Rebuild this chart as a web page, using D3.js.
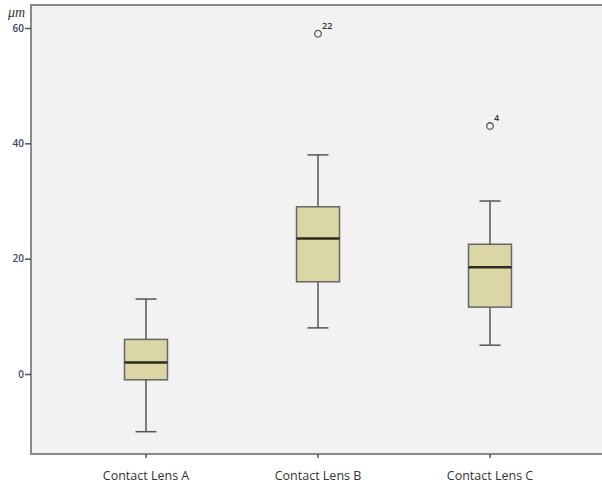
<!DOCTYPE html>
<html>
<head>
<meta charset="utf-8">
<script src="https://cdn.jsdelivr.net/npm/d3@7"></script>
<style>
	body{ margin:0; background:#ffffff; }
	svg text{ font-family:"Open Sans", "DejaVu Sans", sans-serif; }
</style>
</head>
<body>
<div id="chart"></div>
<script>
	// Data
	var categories = ['Contact Lens A','Contact Lens B','Contact Lens C'];
	var whiskerLow = [-10, 8, 5];
	var q1 = [-1, 16, 11.6];
	var medians = [2, 23.5, 18.5];
	var q3 = [6, 29, 22.5];
	var whiskerHigh = [13, 38, 30];
	var outliers = [
		{cat:'Contact Lens B', value:59, label:'22'}
		,{cat:'Contact Lens C', value:43, label:'4'}
	];
	var yTicks = [0, 20, 40, 60];

	// -----------------------------------------------------------------
	var width = 602, height = 488;
	var plotLeft = 31, plotTop = 5, plotRight = 602, plotBottom = 454;

	var svg = d3.select('#chart')
		.append('svg')
		.attr('width',width)
		.attr('height',height);

	var x = d3.scaleBand()
		.domain(categories)
		.range([60, 576])
		.paddingInner(0.75)
		.paddingOuter(0.375);

	var y = d3.scaleLinear()
		.domain([-10, 60])
		.range([431.7, 28]);

	// plot background
	svg.append('rect')
		.attr('x',plotLeft)
		.attr('y',plotTop)
		.attr('width',plotRight-plotLeft)
		.attr('height',plotBottom-plotTop)
		.attr('fill','#f2f2f2');

	// frame (top and left, bottom axis)
	svg.append('path')
		.attr('d','M'+plotRight+','+plotTop+'H'+plotLeft+'V'+plotBottom+'H'+plotRight)
		.attr('fill','none')
		.attr('stroke','#8a8a8a')
		.attr('stroke-width',2);

	// y axis ticks
	var yAxis = svg.append('g')
		.attr('transform','translate('+plotLeft+',0)')
		.call(d3.axisLeft(y).tickValues(yTicks).tickSize(6).tickPadding(1));
	yAxis.select('.domain').remove();
	yAxis.selectAll('.tick line').attr('stroke','#555').attr('stroke-width',1.5);
	yAxis.selectAll('.tick text')
		.attr('fill','#3c4566')
		.attr('font-size',10)
		.attr('font-weight','600');

	// x axis ticks
	var xAxis = svg.append('g')
		.attr('transform','translate(0,'+plotBottom+')')
		.call(d3.axisBottom(x).tickSize(4).tickPadding(13));
	xAxis.select('.domain').remove();
	xAxis.selectAll('.tick line').attr('stroke','#555').attr('stroke-width',1.5);
	xAxis.selectAll('.tick text')
		.attr('fill','#333')
		.attr('font-size',12.5);

	// unit label
	svg.append('text')
		.attr('x',8)
		.attr('y',17)
		.style('font-family','"Liberation Serif", "DejaVu Serif", serif')
		.attr('font-style','italic')
		.attr('font-size',14)
		.attr('fill','#333')
		.text('\u03bcm');

	// boxes
	var rows = categories.map(function(c,i){
		return {cat:c, lo:whiskerLow[i], q1:q1[i], med:medians[i], q3:q3[i], hi:whiskerHigh[i]};
	});

	var g = svg.append('g');
	var bw = x.bandwidth();
	var capW = 21;

	var box = g.selectAll('g.box')
		.data(rows)
		.enter()
		.append('g')
		.attr('class','box')
		.attr('transform',function(d){ return 'translate('+(x(d.cat)+bw/2)+',0)'; });

	box.append('line')
		.attr('x1',0).attr('x2',0)
		.attr('y1',function(d){ return y(d.hi); })
		.attr('y2',function(d){ return y(d.lo); })
		.attr('stroke','#555')
		.attr('stroke-width',1.5);

	box.append('line')
		.attr('x1',-capW/2).attr('x2',capW/2)
		.attr('y1',function(d){ return y(d.hi); })
		.attr('y2',function(d){ return y(d.hi); })
		.attr('stroke','#555')
		.attr('stroke-width',1.5);

	box.append('line')
		.attr('x1',-capW/2).attr('x2',capW/2)
		.attr('y1',function(d){ return y(d.lo); })
		.attr('y2',function(d){ return y(d.lo); })
		.attr('stroke','#555')
		.attr('stroke-width',1.5);

	box.append('rect')
		.attr('x',-bw/2)
		.attr('width',bw)
		.attr('y',function(d){ return y(d.q3); })
		.attr('height',function(d){ return y(d.q1)-y(d.q3); })
		.attr('fill','#dbd6a5')
		.attr('stroke','#666')
		.attr('stroke-width',1.5);

	box.append('line')
		.attr('x1',-bw/2).attr('x2',bw/2)
		.attr('y1',function(d){ return y(d.med); })
		.attr('y2',function(d){ return y(d.med); })
		.attr('stroke','#2b2b20')
		.attr('stroke-width',2.5);

	// outliers
	var out = g.selectAll('g.outlier')
		.data(outliers)
		.enter()
		.append('g')
		.attr('class','outlier')
		.attr('transform',function(d){ return 'translate('+(x(d.cat)+bw/2)+','+y(d.value)+')'; });

	out.append('circle')
		.attr('r',3.3)
		.attr('fill','none')
		.attr('stroke','#555')
		.attr('stroke-width',1.3);

	out.append('text')
		.attr('x',4)
		.attr('y',-5)
		.attr('font-size',9)
		.attr('font-weight','600')
		.attr('fill','#333')
		.text(function(d){ return d.label; });
</script>
</body>
</html>
